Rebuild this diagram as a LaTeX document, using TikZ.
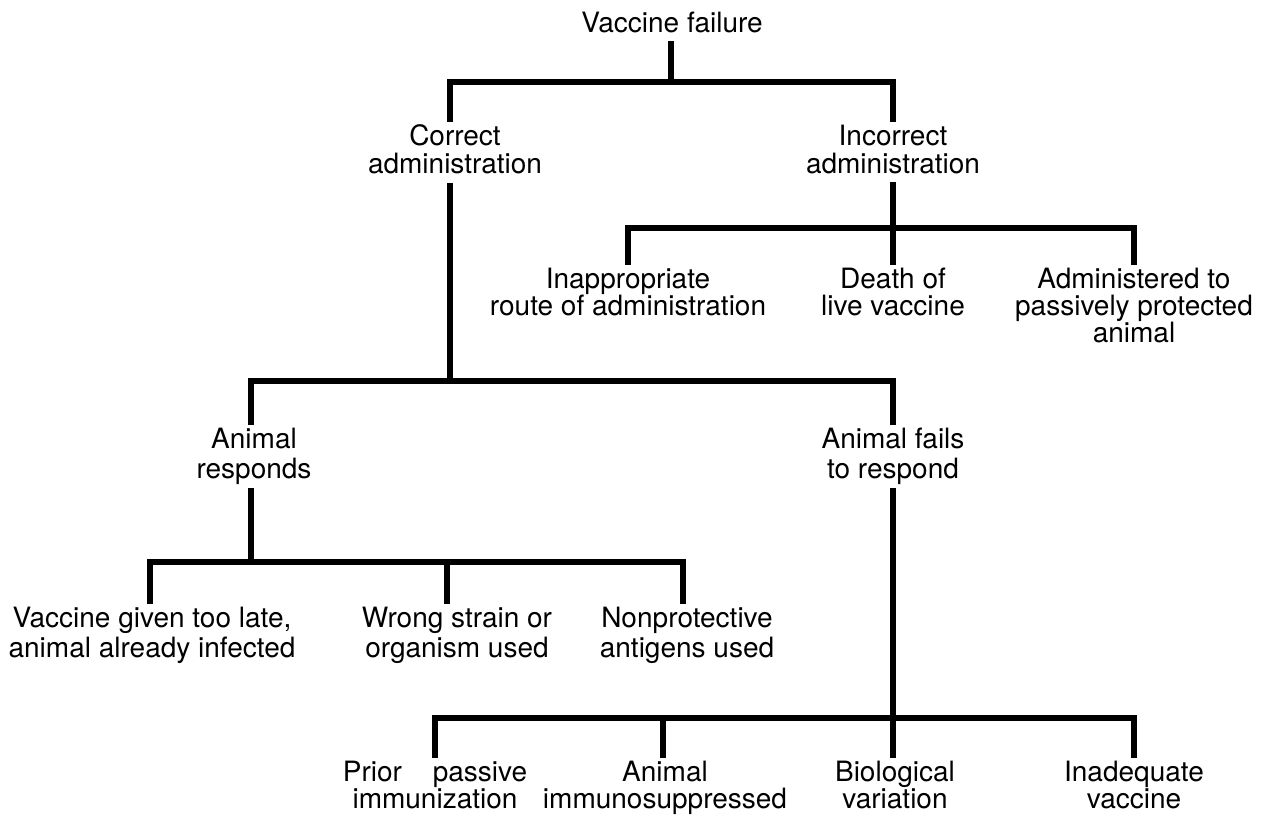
\documentclass[tikz,border=0pt]{standalone}
\usepackage{fontspec}
\setmainfont{TeX Gyre Heros}
\newcommand\tstrut{\rule[-0.2em]{0pt}{0.92em}}
\begin{document}
\begin{tikzpicture}[x=1pt,y=-1pt,
  lbl/.style={font=\fontsize{28}{28}\selectfont, align=center, inner xsep=2pt, inner ysep=6pt, outer sep=0pt, anchor=north},
  sp/.style={font=\fontsize{28}{#1}\selectfont},
  br/.style={line width=5.5pt, line join=miter, line cap=rect}]
\useasboundingbox (0,0) rectangle (1262,817);
% labels
\node[lbl] (vf) at (672,6) {\tstrut Vaccine failure};
\node[lbl] (ca) at (455,119) {\tstrut Correct\\\tstrut administration};
\node[lbl] (ia) at (893,119) {\tstrut Incorrect\\\tstrut administration};
\node[lbl,sp=27] (ir) at (628,262) {\tstrut Inappropriate\\\tstrut route of administration};
\node[lbl,sp=27] (dl) at (893,262) {\tstrut Death of\\\tstrut live vaccine};
\node[lbl,sp=27] (ap) at (1134,262) {\tstrut Administered to\\\tstrut passively protected\\\tstrut animal};
\node[lbl,sp=30] (ar) at (254,422) {\tstrut Animal\\\tstrut responds};
\node[lbl,sp=30] (af) at (893,422) {\tstrut Animal fails\\\tstrut to respond};
\node[lbl,sp=30] (vg) at (152,601) {\tstrut Vaccine given too late,\\\tstrut animal already infected};
\node[lbl,sp=30] (ws) at (457,601) {\tstrut Wrong strain or\\\tstrut organism used};
\node[lbl,sp=30] (np) at (687,601) {\tstrut Nonprotective\\\tstrut antigens used};
\node[lbl,sp=26] (pp) at (435,755) {\tstrut Prior\hspace{1.1em}passive\\\tstrut immunization};
\node[lbl,sp=26] (ai) at (665,755) {\tstrut Animal\\\tstrut immunosuppressed};
\node[lbl,sp=26] (bv) at (895,755) {\tstrut Biological\\\tstrut variation};
\node[lbl,sp=26] (iv) at (1134,755) {\tstrut Inadequate\\\tstrut vaccine};
% junctions
\coordinate (j0) at (671,82);
\coordinate (j1) at (893,228);
\coordinate (j2) at (450,381);
\coordinate (j3) at (251,562);
\coordinate (j4) at (893,718);
% branches
\draw[br] (vf.south -| j0) -- (j0);
\draw[br] (ca.north -| j2) |- (j0) -| (ia.north);
\draw[br] (ia.south) -- (j1);
\draw[br] (ir.north) |- (j1) -| (ap.north);
\draw[br] (dl.north) -- (j1);
\draw[br] (ca.south -| j2) -- (j2);
\draw[br] (ar.north -| j3) |- (j2) -| (af.north);
\draw[br] (ar.south -| j3) -- (j3);
\draw[br] ([xshift=-2pt]vg.north) |- (j3) -| ([xshift=-4pt]np.north);
\draw[br] ([xshift=-10pt]ws.north) -- ([xshift=-10pt]ws.north |- j3);
\draw[br] (af.south) -- (j4);
\draw[br] (pp.north) |- (j4) -| (iv.north);
\draw[br] ([xshift=-2pt]ai.north) -- ([xshift=-2pt]ai.north |- j4);
\draw[br] (bv.north -| j4) -- (j4);
\end{tikzpicture}
\end{document}
